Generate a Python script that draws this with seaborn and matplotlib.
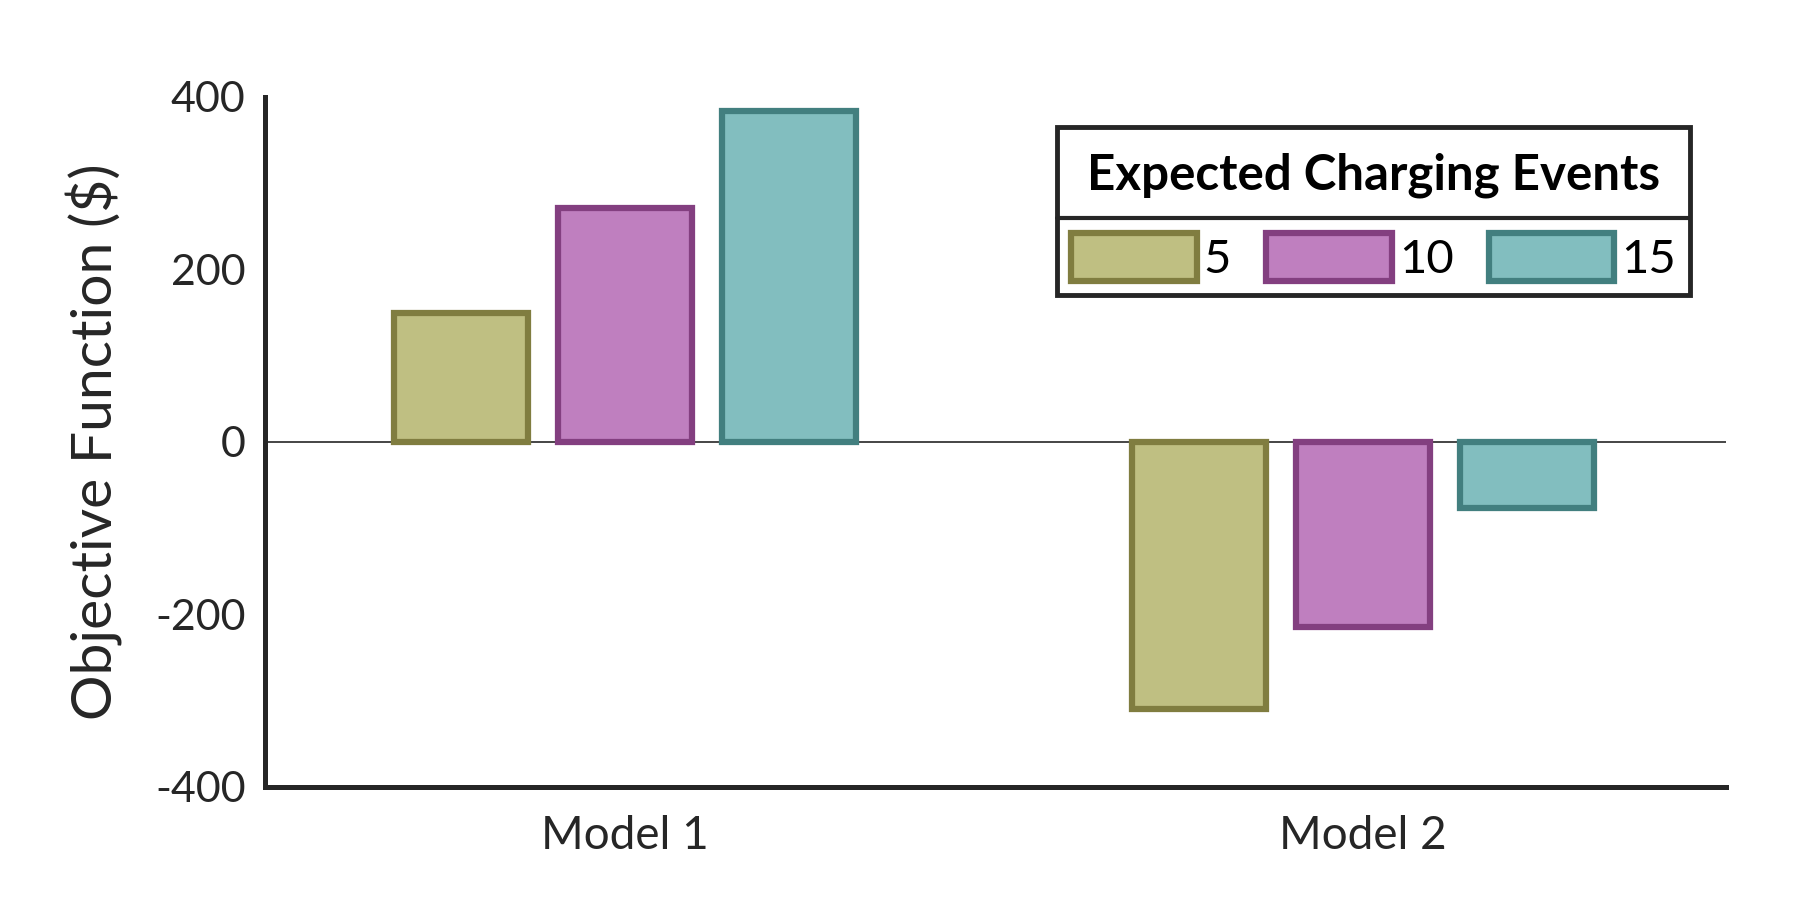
import matplotlib
matplotlib.use('Agg')
import matplotlib.pyplot as plt
import seaborn as sns
import pandas as pd
from matplotlib.patches import Patch
from matplotlib.lines import Line2D
from matplotlib.offsetbox import VPacker, DrawingArea

# data
models = ['Model 1', 'Model 2']
events = ['5', '10', '15']
values_model1 = [150, 271, 384]
values_model2 = [-310, -214, -77]

fill_colors = ['#BFBF82', '#BF7FBF', '#82BEBF']
edge_colors = ['#807D40', '#833F80', '#427F7F']

rows = []
for model, vals in zip(models, [values_model1, values_model2]):
    for ev, v in zip(events, vals):
        rows.append({'Model': model, 'Events': ev, 'Objective': v})
df = pd.DataFrame(rows)

sns.set_style('white')
plt.rcParams['font.family'] = ['Lato', 'DejaVu Sans']
plt.rcParams['axes.unicode_minus'] = False

fig = plt.figure(figsize=(18.04, 9.02), dpi=100)
ax = fig.add_axes([0.1469, 0.1275, 0.8099, 0.765])

sns.barplot(data=df, x='Model', y='Objective', hue='Events', hue_order=events,
            palette=fill_colors, saturation=1, width=0.667, gap=0.18, ax=ax,
            legend=False, errorbar=None)

for container, ec in zip(ax.containers, edge_colors):
    for bar in container:
        bar.set_edgecolor(ec)
        bar.set_linewidth(4.5)

ax.axhline(0, color='#262626', linewidth=1.2, zorder=0)

ax.set_ylim(-400, 400)
ax.set_xlim(-0.488, 1.492)
ax.set_yticks([-400, -200, 0, 200, 400])
ax.set_xlabel('')
ax.set_ylabel('Objective Function ($)', fontsize=41, color='#262626')
ax.yaxis.set_label_coords(-0.097, 0.5)

sns.despine(ax=ax)
for side in ['left', 'bottom']:
    ax.spines[side].set_linewidth(3.6)
    ax.spines[side].set_color('#262626')
ax.tick_params(axis='both', direction='in', length=12, width=3, color='#262626',
               labelsize=31, labelcolor='#262626')
ax.tick_params(axis='y', pad=14)
ax.tick_params(axis='x', pad=20, labelsize=33)

handles = [Patch(facecolor=fc, edgecolor=ec, linewidth=4.5)
           for fc, ec in zip(fill_colors, edge_colors)]
leg = ax.legend(handles, events, title='Expected Charging Events', ncol=3,
                loc='upper right', bbox_to_anchor=(1690 / 1804, 1 - 127 / 902),
                bbox_transform=fig.transFigure, borderaxespad=0,
                fontsize=34, title_fontsize=35.5, labelspacing=0.74,
                handlelength=2.65, handleheight=1.2, handletextpad=0.15,
                columnspacing=0.75, fancybox=False, framealpha=1,
                edgecolor='#262626', borderpad=0.3)
leg.get_title().set_fontweight('bold')
leg.get_title().set_color('black')
leg.get_frame().set_linewidth(3.5)
for t in leg.get_texts():
    t.set_color('black')

# a bit more room above the legend title
leg._legend_box._children[0] = VPacker(
    children=[DrawingArea(1, 8), leg._legend_title_box], pad=0, sep=0, align='center')

# line under the legend title
fig.canvas.draw()
renderer = fig.canvas.get_renderer()
frame_bb = leg.get_frame().get_window_extent(renderer)
hbox_bb = leg._legend_handle_box.get_window_extent(renderer)
y_line = (hbox_bb.y1 + 15) / fig.bbox.height
fig.add_artist(Line2D([frame_bb.x0 / fig.bbox.width, frame_bb.x1 / fig.bbox.width],
                      [y_line, y_line], color='#262626', linewidth=3,
                      transform=fig.transFigure))

fig.savefig('out.png', dpi=100)
